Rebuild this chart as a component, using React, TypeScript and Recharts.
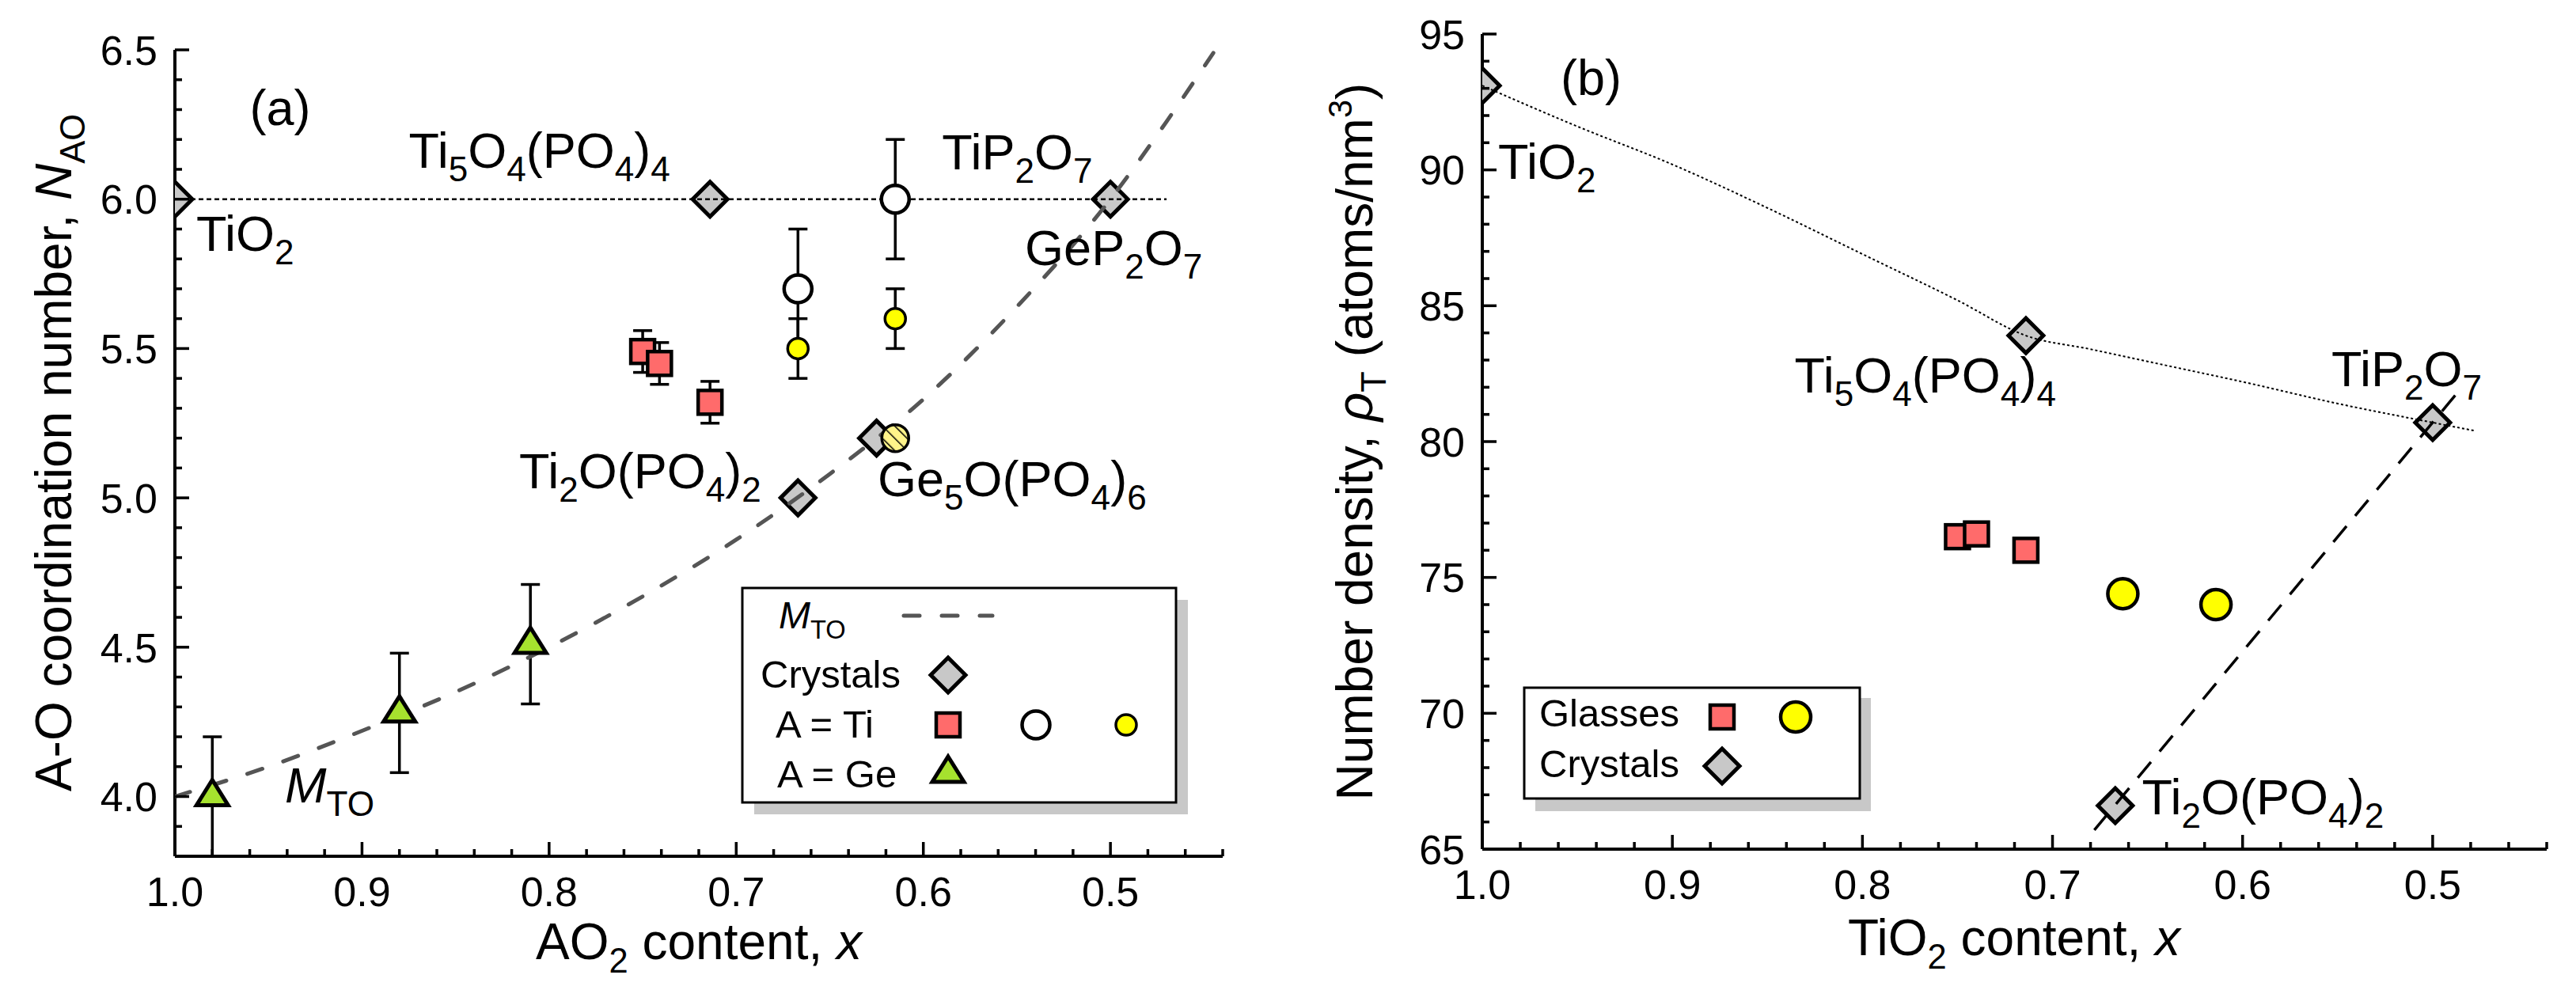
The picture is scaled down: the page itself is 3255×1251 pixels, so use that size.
import React from 'react';
import { ComposedChart, Scatter, XAxis, YAxis, ErrorBar } from 'recharts';

const FONT = '"Liberation Sans", Arial, Helvetica, sans-serif';

// ---------------- data: panel (a) ----------------
const crystalsA = [
  { x: 1.0, y: 6.0 },
  { x: 0.714, y: 6.0 },
  { x: 0.5, y: 6.0 },
  { x: 0.667, y: 5.0 },
  { x: 0.625, y: 5.2 },
];
const tiSquaresA = [
  { x: 0.75, y: 5.49, err: 0.07 },
  { x: 0.741, y: 5.45, err: 0.07 },
  { x: 0.714, y: 5.32, err: 0.07 },
];
const tiOpenA = [
  { x: 0.667, y: 5.7, err: 0.2 },
  { x: 0.615, y: 6.0, err: 0.2 },
];
const tiYellowA = [
  { x: 0.667, y: 5.5, err: 0.1 },
  { x: 0.615, y: 5.6, err: 0.1 },
];
const tiHatchedA = [{ x: 0.615, y: 5.2 }];
const geTrianglesA = [
  { x: 0.98, y: 4.0, err: 0.2 },
  { x: 0.88, y: 4.28, err: 0.2 },
  { x: 0.81, y: 4.51, err: 0.2 },
];
const mtoCurveA = [
  { x: 1.0, y: 4.0 },
  { x: 0.95, y: 4.1 },
  { x: 0.9, y: 4.22 },
  { x: 0.85, y: 4.35 },
  { x: 0.8, y: 4.5 },
  { x: 0.75, y: 4.67 },
  { x: 0.7, y: 4.86 },
  { x: 0.65, y: 5.08 },
  { x: 0.6, y: 5.33 },
  { x: 0.55, y: 5.64 },
  { x: 0.5, y: 6.0 },
  { x: 0.47, y: 6.26 },
  { x: 0.445, y: 6.49 },
];
const sixfoldLineA = [
  { x: 1.0, y: 6.0 },
  { x: 0.47, y: 6.0 },
];
const labelsA = [
  { x: 0.9886, y: 5.827, id: 'TiO2' },
  { x: 0.875, y: 6.105, id: 'Ti5O4PO44' },
  { x: 0.59, y: 6.1, id: 'TiP2O7' },
  { x: 0.5457, y: 5.779, id: 'GeP2O7' },
  { x: 0.816, y: 5.032, id: 'Ti2OPO42' },
  { x: 0.6244, y: 5.006, id: 'Ge5OPO46' },
  { x: 0.9412, y: 3.98, id: 'MTO' },
  { x: 0.96, y: 6.248, id: 'a' },
];

// ---------------- data: panel (b) ----------------
const crystalsB = [
  { x: 1.0, y: 93.1 },
  { x: 0.714, y: 83.9 },
  { x: 0.5, y: 80.7 },
  { x: 0.667, y: 66.6 },
];
const glassSquaresB = [
  { x: 0.75, y: 76.5 },
  { x: 0.74, y: 76.6 },
  { x: 0.714, y: 76.0 },
];
const glassCirclesB = [
  { x: 0.663, y: 74.4 },
  { x: 0.614, y: 74.0 },
];
const dottedCurveB = [
  { x: 1.0, y: 93.1 },
  { x: 0.95, y: 91.6 },
  { x: 0.9, y: 90.2 },
  { x: 0.85, y: 88.6 },
  { x: 0.8, y: 86.9 },
  { x: 0.75, y: 85.2 },
  { x: 0.714, y: 83.9 },
  { x: 0.68, y: 83.4 },
  { x: 0.64, y: 82.8 },
  { x: 0.6, y: 82.2 },
  { x: 0.55, y: 81.4 },
  { x: 0.5, y: 80.7 },
  { x: 0.478, y: 80.4 },
];
const dashedLineB = [
  { x: 0.678, y: 65.7 },
  { x: 0.487, y: 81.8 },
];
const labelsB = [
  { x: 0.9588, y: 92.76, id: 'b' },
  { x: 0.9917, y: 89.67, id: 'TiO2' },
  { x: 0.8357, y: 81.8, id: 'Ti5O4PO44' },
  { x: 0.5533, y: 82.04, id: 'TiP2O7' },
  { x: 0.653, y: 66.28, id: 'Ti2OPO42' },
];

// ---------------- ticks ----------------
const X_MAJOR = [1.0, 0.9, 0.8, 0.7, 0.6, 0.5];
const Y_MAJOR_A = [4.0, 4.5, 5.0, 5.5, 6.0, 6.5];
const Y_MAJOR_B = [65, 70, 75, 80, 85, 90, 95];
const X_DOMAIN: [number, number] = [0.44, 1.0];
const Y_DOMAIN_A: [number, number] = [3.8, 6.5];
const Y_DOMAIN_B: [number, number] = [65, 95];

const xTicks = Array.from({ length: 29 }, (_, i) => Math.round((1 - i * 0.02) * 100) / 100);
const yTicksA = Array.from({ length: 28 }, (_, i) => Math.round((3.8 + i * 0.1) * 10) / 10);
const yTicksB = Array.from({ length: 31 }, (_, i) => 65 + i);

const near = (a: number, list: number[]) => list.some((m) => Math.abs(a - m) < 1e-6);

// ---------------- text helper ----------------
type Seg = [string, 'n' | 'sub' | 'sup' | 'i'];

const FORMULA: Record<string, Seg[]> = {
  TiO2: [['TiO', 'n'], ['2', 'sub']],
  Ti5O4PO44: [['Ti', 'n'], ['5', 'sub'], ['O', 'n'], ['4', 'sub'], ['(PO', 'n'], ['4', 'sub'], [')', 'n'], ['4', 'sub']],
  TiP2O7: [['TiP', 'n'], ['2', 'sub'], ['O', 'n'], ['7', 'sub']],
  GeP2O7: [['GeP', 'n'], ['2', 'sub'], ['O', 'n'], ['7', 'sub']],
  Ti2OPO42: [['Ti', 'n'], ['2', 'sub'], ['O(PO', 'n'], ['4', 'sub'], [')', 'n'], ['2', 'sub']],
  Ge5OPO46: [['Ge', 'n'], ['5', 'sub'], ['O(PO', 'n'], ['4', 'sub'], [')', 'n'], ['6', 'sub']],
  MTO: [['M', 'i'], ['TO', 'sub']],
  a: [['(a)', 'n']],
  b: [['(b)', 'n']],
};

function Rich(props: {
  segs: Seg[];
  x: number;
  y: number;
  size: number;
  anchor?: string;
  transform?: string;
  subRatio?: number;
}) {
  const { segs, x, y, size, anchor = 'start', transform, subRatio = 0.68 } = props;
  let shift = 0;
  const spans = segs.map(([t, k], i) => {
    let target = 0;
    let fs = size;
    let fstyle: string | undefined;
    if (k === 'sub') {
      target = size * 0.27;
      fs = size * subRatio;
    } else if (k === 'sup') {
      target = -size * 0.4;
      fs = size * 0.65;
    } else if (k === 'i') {
      fstyle = 'italic';
    }
    const dy = target - shift;
    shift = target;
    return (
      <tspan key={i} dy={dy} fontSize={fs} fontStyle={fstyle}>
        {t}
      </tspan>
    );
  });
  return (
    <text
      x={x}
      y={y}
      fontSize={size}
      fontFamily={FONT}
      textAnchor={anchor as any}
      transform={transform}
      fill="#000"
      style={{ whiteSpace: 'pre' }}
    >
      {spans}
    </text>
  );
}

// ---------------- markers ----------------
const Diamond = ({ cx, cy }: any) => (
  <polygon
    points={`${cx},${cy - 22} ${cx + 22},${cy} ${cx},${cy + 22} ${cx - 22},${cy}`}
    fill="#c8c8c8"
    stroke="#000"
    strokeWidth={5}
    strokeLinejoin="miter"
  />
);
const Square = ({ cx, cy }: any) => (
  <rect x={cx - 15} y={cy - 15} width={30} height={30} fill="#ff6b6b" stroke="#000" strokeWidth={4.5} />
);
const OpenCircle = ({ cx, cy }: any) => <circle cx={cx} cy={cy} r={17.5} fill="#fff" stroke="#000" strokeWidth={4.5} />;
const YellowSmall = ({ cx, cy }: any) => <circle cx={cx} cy={cy} r={13} fill="#ffff00" stroke="#000" strokeWidth={3.5} />;
const YellowBig = ({ cx, cy }: any) => <circle cx={cx} cy={cy} r={19} fill="#ffff00" stroke="#000" strokeWidth={4.5} />;
const Triangle = ({ cx, cy }: any) => (
  <polygon
    points={`${cx},${cy - 21} ${cx + 20},${cy + 11} ${cx - 20},${cy + 11}`}
    fill="#a6e22e"
    stroke="#000"
    strokeWidth={5}
    strokeLinejoin="miter"
  />
);
const Hatched = ({ cx, cy }: any) => (
  <g>
    <defs>
      <pattern id="hatchPat" patternUnits="userSpaceOnUse" width="11" height="11" patternTransform="rotate(-45)">
        <rect width="11" height="11" fill="#fff48a" />
        <line x1="0" y1="0" x2="0" y2="11" stroke="#000" strokeWidth="3" />
      </pattern>
    </defs>
    <circle cx={cx} cy={cy} r={17} fill="url(#hatchPat)" stroke="#000" strokeWidth={3.5} />
  </g>
);
const NoDot = () => <g />;

const LabelShape = (size: number) => (p: any) => {
  const id = p.payload?.id;
  const segs = FORMULA[id];
  if (!segs) return <g />;
  return <Rich segs={segs} x={p.cx} y={p.cy} size={size} subRatio={0.7} />;
};

// ---------------- ticks ----------------
function makeTick(side: 'bottom' | 'top' | 'left' | 'right', majors: number[], fmt: (v: number) => string) {
  return (props: any) => {
    const { x, y, payload } = props;
    const v = payload.value;
    const major = near(v, majors);
    const len = major ? 18 : 9;
    let line: any;
    let label: any = null;
    if (side === 'bottom') {
      line = <line x1={x} x2={x} y1={y} y2={y - len} />;
      if (major)
        label = (
          <text x={x} y={y + 63} textAnchor="middle" fontSize={52} fontFamily={FONT} fill="#000">
            {fmt(v)}
          </text>
        );
    } else if (side === 'top') {
      line = <line x1={x} x2={x} y1={y} y2={y + len} />;
    } else if (side === 'left') {
      line = <line x1={x} x2={x + len} y1={y} y2={y} />;
      if (major)
        label = (
          <text x={x - 22} y={y} dy="0.36em" textAnchor="end" fontSize={52} fontFamily={FONT} fill="#000">
            {fmt(v)}
          </text>
        );
    } else {
      line = <line x1={x} x2={x - len} y1={y} y2={y} />;
    }
    return (
      <g>
        <g stroke="#000" strokeWidth={3.5}>{line}</g>
        {label}
      </g>
    );
  };
}

const AXLINE = { stroke: '#000', strokeWidth: 4 };
const fmt1 = (v: number) => v.toFixed(1);
const fmt0 = (v: number) => String(Math.round(v));

const bottomTick = makeTick('bottom', X_MAJOR, fmt1);
const topTick = makeTick('top', X_MAJOR, fmt1);
const leftTickA = makeTick('left', Y_MAJOR_A, fmt1);
const rightTickA = makeTick('right', Y_MAJOR_A, fmt1);
const leftTickB = makeTick('left', Y_MAJOR_B, fmt0);
const rightTickB = makeTick('right', Y_MAJOR_B, fmt0);

const errProps = { dataKey: 'err', direction: 'y' as const, width: 12, stroke: '#000', strokeWidth: 3.5 };

function PanelA() {
  return (
    <ComposedChart width={1600} height={1251} margin={{ top: 63, right: 55, bottom: 0, left: 0 }}>
      <XAxis
        dataKey="x"
        type="number"
        domain={X_DOMAIN}
        reversed
        allowDataOverflow
        ticks={xTicks}
        interval={0}
        tickSize={0}
        tickMargin={0}
        tickLine={false}
        axisLine={AXLINE}
        tick={bottomTick}
        height={169}
      />
      <XAxis
        xAxisId="top"
        orientation="top"
        dataKey="x"
        type="number"
        domain={X_DOMAIN}
        reversed
        allowDataOverflow
        ticks={xTicks}
        interval={0}
        tickSize={0}
        tickMargin={0}
        tickLine={false}
        axisLine={AXLINE}
        tick={topTick}
        height={0}
      />
      <YAxis
        dataKey="y"
        type="number"
        domain={Y_DOMAIN_A}
        allowDataOverflow
        ticks={yTicksA}
        interval={0}
        tickSize={0}
        tickMargin={0}
        tickLine={false}
        axisLine={AXLINE}
        tick={leftTickA}
        width={221}
      />
      <YAxis
        yAxisId="right"
        orientation="right"
        dataKey="y"
        type="number"
        domain={Y_DOMAIN_A}
        allowDataOverflow
        ticks={yTicksA}
        interval={0}
        tickSize={0}
        tickMargin={0}
        tickLine={false}
        axisLine={AXLINE}
        tick={rightTickA}
        width={0}
      />
      <Scatter data={crystalsA} shape={Diamond} isAnimationActive={false} />
      <Scatter
        data={mtoCurveA}
        shape={NoDot}
        line={{ stroke: '#555', strokeWidth: 5, strokeDasharray: '20 28', strokeLinecap: 'round' }}
        lineJointType="monotoneX"
        isAnimationActive={false}
      />
      <Scatter
        data={sixfoldLineA}
        shape={NoDot}
        line={{ stroke: '#000', strokeWidth: 2.5, strokeDasharray: '6 4' }}
        isAnimationActive={false}
      />
      <Scatter data={tiSquaresA} shape={Square} isAnimationActive={false}>
        <ErrorBar {...errProps} isAnimationActive={false} />
      </Scatter>
      <Scatter data={tiYellowA} shape={YellowSmall} isAnimationActive={false}>
        <ErrorBar {...errProps} isAnimationActive={false} />
      </Scatter>
      <Scatter data={tiOpenA} shape={OpenCircle} isAnimationActive={false}>
        <ErrorBar {...errProps} isAnimationActive={false} />
      </Scatter>
      <Scatter data={tiHatchedA} shape={Hatched} isAnimationActive={false} />
      <Scatter data={geTrianglesA} shape={Triangle} isAnimationActive={false}>
        <ErrorBar {...errProps} isAnimationActive={false} />
      </Scatter>
      <Scatter data={labelsA} shape={LabelShape(63)} isAnimationActive={false} />
    </ComposedChart>
  );
}

function PanelB() {
  return (
    <ComposedChart width={1635} height={1251} margin={{ top: 43, right: 37, bottom: 0, left: 0 }}>
      <XAxis
        dataKey="x"
        type="number"
        domain={X_DOMAIN}
        reversed
        allowDataOverflow
        ticks={xTicks}
        interval={0}
        tickSize={0}
        tickMargin={0}
        tickLine={false}
        axisLine={AXLINE}
        tick={bottomTick}
        height={178}
      />
      <XAxis
        xAxisId="top"
        orientation="top"
        dataKey="x"
        type="number"
        domain={X_DOMAIN}
        reversed
        allowDataOverflow
        ticks={xTicks}
        interval={0}
        tickSize={0}
        tickMargin={0}
        tickLine={false}
        axisLine={AXLINE}
        tick={topTick}
        height={0}
      />
      <YAxis
        dataKey="y"
        type="number"
        domain={Y_DOMAIN_B}
        allowDataOverflow
        ticks={yTicksB}
        interval={0}
        tickSize={0}
        tickMargin={0}
        tickLine={false}
        axisLine={AXLINE}
        tick={leftTickB}
        width={253}
      />
      <YAxis
        yAxisId="right"
        orientation="right"
        dataKey="y"
        type="number"
        domain={Y_DOMAIN_B}
        allowDataOverflow
        ticks={yTicksB}
        interval={0}
        tickSize={0}
        tickMargin={0}
        tickLine={false}
        axisLine={AXLINE}
        tick={rightTickB}
        width={0}
      />
      <Scatter data={crystalsB} shape={Diamond} isAnimationActive={false} />
      <Scatter
        data={dottedCurveB}
        shape={NoDot}
        line={{ stroke: '#000', strokeWidth: 2, strokeDasharray: '3 3' }}
        lineJointType="monotoneX"
        isAnimationActive={false}
      />
      <Scatter
        data={dashedLineB}
        shape={NoDot}
        line={{ stroke: '#000', strokeWidth: 3.5, strokeDasharray: '26 17' }}
        isAnimationActive={false}
      />
      <Scatter data={glassSquaresB} shape={Square} isAnimationActive={false} />
      <Scatter data={glassCirclesB} shape={YellowBig} isAnimationActive={false} />
      <Scatter data={labelsB} shape={LabelShape(63)} isAnimationActive={false} />
    </ComposedChart>
  );
}

function Overlay() {
  const legText = (t: string, x: number, y: number) => (
    <text x={x} y={y} fontSize={49} fontFamily={FONT} fill="#000" style={{ whiteSpace: 'pre' }}>
      {t}
    </text>
  );
  return (
    <svg width={3255} height={1251} style={{ position: 'absolute', left: 0, top: 0, pointerEvents: 'none' }}>
      {/* axis titles (a) */}
      <Rich segs={[['AO', 'n'], ['2', 'sub'], [' content, ', 'n'], ['x', 'i']]} x={883} y={1212} size={64} anchor="middle" />
      <Rich
        segs={[['A-O coordination number, ', 'n'], ['N', 'i'], ['AO', 'sub']]}
        x={90}
        y={572}
        size={64}
        anchor="middle"
        transform="rotate(-90, 90, 572)"
      />
      {/* axis titles (b) */}
      <Rich segs={[['TiO', 'n'], ['2', 'sub'], [' content, ', 'n'], ['x', 'i']]} x={2545} y={1207} size={64} anchor="middle" />
      <Rich
        segs={[['Number density, ', 'n'], ['ρ', 'i'], ['T', 'sub'], [' (atoms/nm', 'n'], ['3', 'sup'], [')', 'n']]}
        x={1734}
        y={558}
        size={64}
        anchor="middle"
        transform="rotate(-90, 1734, 558)"
      />

      {/* legend (a) */}
      <rect x={953} y={758} width={548} height={271} fill="#c8c8c8" />
      <rect x={938} y={743} width={548} height={271} fill="#fff" stroke="#000" strokeWidth={3} />
      <Rich segs={[['M', 'i'], ['TO', 'sub']]} x={984} y={794} size={48} />
      <line x1={1142} x2={1254} y1={778} y2={778} stroke="#555" strokeWidth={5} strokeDasharray="20 28" strokeLinecap="round" />
      {legText('Crystals', 961, 869)}
      <Diamond cx={1198} cy={853} />
      {legText('A = Ti', 980, 932)}
      <Square cx={1198} cy={916} />
      <OpenCircle cx={1309} cy={916} />
      <YellowSmall cx={1423} cy={916} />
      {legText('A = Ge', 982, 995)}
      <Triangle cx={1198} cy={977} />

      {/* legend (b) */}
      <rect x={1940} y={882} width={424} height={143} fill="#c8c8c8" />
      <rect x={1926} y={869} width={424} height={140} fill="#fff" stroke="#000" strokeWidth={3} />
      {legText('Glasses', 1945, 918)}
      <Square cx={2176} cy={906} />
      <YellowBig cx={2269} cy={906} />
      {legText('Crystals', 1945, 982)}
      <Diamond cx={2176} cy={968} />
    </svg>
  );
}

export default function App() {
  return (
    <div
      style={{
        position: 'absolute',
        left: 0,
        top: 0,
        width: 3255,
        height: 1251,
        background: '#fff',
        fontFamily: FONT,
        overflow: 'hidden',
      }}
    >
      <div style={{ position: 'absolute', left: 0, top: 0 }}>
        <PanelA />
      </div>
      <div style={{ position: 'absolute', left: 1620, top: 0 }}>
        <PanelB />
      </div>
      <Overlay />
    </div>
  );
}
